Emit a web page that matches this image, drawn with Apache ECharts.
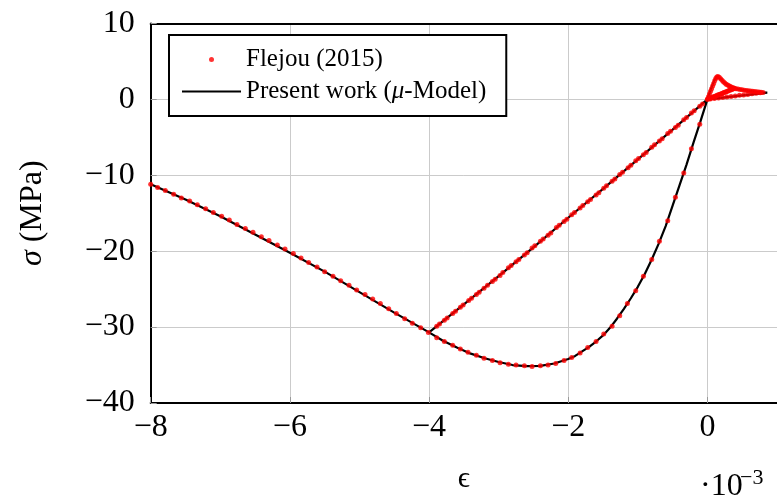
<!DOCTYPE html>
<html><head><meta charset="utf-8">
<script src="https://cdn.jsdelivr.net/npm/echarts@6/dist/echarts.min.js"></script>
<style>html,body{margin:0;padding:0;background:#fff}#c{width:777px;height:499px}</style>
</head><body><div id="c"></div>
<script>
// ---- axis settings / tick labels ----
const xTicks = [-8, -6, -4, -2, 0];
const yTicks = [-40, -30, -20, -10, 0, 10];
const xScaleLabel = '·10';
const xScaleExp = '−3';

// ---- Flejou (2015): compression envelope (strain x1e-3, stress MPa) ----
const flejouEnvX = [0,-0.11,-0.23,-0.34,-0.46,-0.57,-0.69,-0.80,-0.92,-1.03,-1.15,-1.26,-1.37,-1.49,-1.60,-1.72,-1.83,-1.95,-2.06,-2.18,-2.29,-2.40,-2.52,-2.63,-2.75,-2.86,-2.98,-3.09,-3.21,-3.32,-3.44,-3.55,-3.66,-3.78,-3.89,-4.01,-4.12,-4.24,-4.35,-4.47,-4.58,-4.70,-4.81,-4.92,-5.04,-5.15,-5.27,-5.38,-5.50,-5.61,-5.73,-5.84,-5.95,-6.07,-6.18,-6.30,-6.41,-6.53,-6.64,-6.76,-6.87,-6.98,-7.10,-7.21,-7.33,-7.44,-7.56,-7.67,-7.79,-7.90,-8.00];
const flejouEnvY = [0,-3.3,-6.5,-9.7,-12.9,-16.0,-18.7,-21.1,-23.3,-25.2,-26.9,-28.5,-29.9,-30.9,-31.9,-32.7,-33.4,-34.0,-34.4,-34.8,-35.0,-35.1,-35.2,-35.1,-35.0,-34.9,-34.7,-34.4,-34.1,-33.7,-33.3,-32.9,-32.4,-31.9,-31.4,-30.7,-30.1,-29.5,-28.9,-28.2,-27.6,-26.9,-26.3,-25.7,-25.1,-24.5,-23.9,-23.3,-22.7,-22.1,-21.5,-20.9,-20.3,-19.7,-19.2,-18.6,-18.1,-17.5,-17.0,-16.5,-15.9,-15.4,-14.9,-14.4,-13.9,-13.4,-13.0,-12.5,-12.0,-11.6,-11.2];
// unloading from -4e-3 back to origin
const flejouUnloadX = [-3.89,-3.78,-3.66,-3.55,-3.43,-3.32,-3.21,-3.09,-2.98,-2.86,-2.75,-2.63,-2.52,-2.40,-2.29,-2.17,-2.06,-1.95,-1.83,-1.72,-1.60,-1.49,-1.37,-1.26,-1.14,-1.03,-0.92,-0.80,-0.69,-0.57,-0.46,-0.34,-0.23,-0.11];
const flejouUnloadY = [-29.9,-29.1,-28.2,-27.4,-26.5,-25.7,-24.9,-24.0,-23.2,-22.2,-21.4,-20.5,-19.6,-18.7,-17.9,-16.9,-16.1,-15.2,-14.3,-13.5,-12.6,-11.7,-10.8,-9.9,-9.0,-8.1,-7.3,-6.3,-5.5,-4.5,-3.7,-2.7,-1.8,-0.9];
// reloading from origin to -4e-3
const flejouReloadX = [-0.07,-0.19,-0.30,-0.42,-0.53,-0.65,-0.76,-0.88,-0.99,-1.10,-1.22,-1.33,-1.45,-1.56,-1.68,-1.79,-1.91,-2.02,-2.13,-2.25,-2.36,-2.48,-2.59,-2.71,-2.82,-2.94,-3.05,-3.16,-3.28,-3.39,-3.51,-3.62,-3.74,-3.85];
const flejouReloadY = [-0.6,-1.5,-2.4,-3.4,-4.2,-5.2,-6.0,-7.0,-7.8,-8.7,-9.6,-10.5,-11.4,-12.3,-13.2,-14.0,-14.9,-15.8,-16.6,-17.6,-18.4,-19.3,-20.2,-21.1,-21.9,-22.8,-23.7,-24.5,-25.4,-26.2,-27.1,-27.9,-28.8,-29.6];
// tension cycles
const flejouTenX = [0,0.015,0.03,0.045,0.06,0.075,0.09,0.105,0.12,0.135,0.15,0.17,0.19,0.21,0.23,0.25,0.27,0.29,0.31,0.33,0.35,0.37,0.39,0.36,0.33,0.30,0.27,0.24,0.21,0.18,0.15,0.12,0.09,0.06,0.03,0.02,0.05,0.08,0.11,0.14,0.17,0.20,0.23,0.26,0.29,0.32,0.35,0.38,0.41,0.44,0.47,0.50,0.53,0.56,0.59,0.62,0.65,0.68,0.71,0.74,0.77,0.80,0.76,0.70,0.64,0.58,0.52,0.46,0.40,0.34,0.28,0.22,0.16,0.10,0.04];
const flejouTenY = [0,0.35,0.7,1.05,1.4,1.75,2.1,2.45,2.75,2.95,3.0,2.9,2.7,2.5,2.3,2.15,2.0,1.88,1.78,1.68,1.6,1.52,1.45,1.34,1.23,1.12,1.0,0.89,0.78,0.67,0.56,0.45,0.33,0.22,0.11,0.07,0.19,0.3,0.41,0.52,0.63,0.74,0.85,0.96,1.07,1.19,1.3,1.41,1.40,1.35,1.3,1.25,1.2,1.16,1.12,1.08,1.05,1.02,0.99,0.96,0.93,0.9,0.85,0.79,0.72,0.65,0.58,0.52,0.45,0.38,0.31,0.25,0.18,0.11,0.05];

// ---- Present work (mu-Model): loading path ----
const modelX = [0,0.05,0.1,0.135,0.15,0.19,0.23,0.27,0.31,0.35,0.39,0,0.39,0.45,0.5,0.6,0.7,0.8,0.86,0,
  -0.1,-0.2,-0.3,-0.4,-0.5,-0.6,-0.7,-0.8,-0.9,-1.0,-1.1,-1.2,-1.3,-1.4,-1.5,-1.6,-1.7,-1.8,-1.9,-2.0,-2.2,-2.4,-2.6,-2.8,-3.0,-3.2,-3.4,-3.6,-3.8,-4.0,
  -3.5,-3.0,-2.5,-2.0,-1.5,-1.0,-0.5,0,
  -0.5,-1.0,-1.5,-2.0,-2.5,-3.0,-3.5,-4.0,
  -4.5,-5.0,-5.5,-6.0,-6.5,-7.0,-7.5,-8.0];
const modelY = [0,1.3,2.5,2.95,3.0,2.7,2.3,2.0,1.78,1.6,1.45,0,1.45,1.34,1.25,1.12,1.0,0.92,0.88,0,
  -2.9,-5.7,-8.6,-11.3,-14.0,-16.7,-19.0,-21.1,-23.0,-24.7,-26.2,-27.6,-28.9,-30.1,-31.1,-31.9,-32.6,-33.2,-33.8,-34.2,-34.8,-35.1,-35.15,-35.0,-34.6,-34.1,-33.5,-32.7,-31.8,-30.7,
  -27.0,-23.3,-19.5,-15.6,-11.8,-7.9,-4.0,0,
  -4.0,-7.9,-11.8,-15.6,-19.5,-23.3,-27.0,-30.7,
  -28.1,-25.4,-22.7,-20.2,-17.8,-15.4,-13.2,-11.2];

function pairs(xs, ys) { const n = Math.min(xs.length, ys.length); const o = []; for (let i = 0; i < n; i++) o.push([xs[i], ys[i]]); return o; }
const flejouData = [].concat(pairs(flejouEnvX, flejouEnvY), pairs(flejouUnloadX, flejouUnloadY), pairs(flejouReloadX, flejouReloadY), pairs(flejouTenX, flejouTenY));
const modelData = pairs(modelX, modelY);

const FONT = '"Liberation Serif", "DejaVu Serif", serif';
const minus = v => (v < 0 ? '\u2212' + Math.abs(v) : String(v));

const chart = echarts.init(document.getElementById('c'), null, { renderer: 'canvas' });
chart.setOption({
  backgroundColor: '#fff',
  animation: false,
  grid: { left: 150.7, top: 23.4, width: 630, height: 384.5, containLabel: false },
  legend: {
    orient: 'vertical', left: 169, top: 35,
    padding: [12, 20, 12, 13], itemGap: 7, itemWidth: 59, itemHeight: 5,
    backgroundColor: '#fff', borderColor: '#000', borderWidth: 2, borderRadius: 0,
    textStyle: { fontFamily: FONT, fontSize: 25, color: '#000',
      rich: { i: { fontFamily: FONT, fontSize: 25, fontStyle: 'italic', color: '#000' } } },
    formatter: n => n.replace('μ', '{i|μ}'),
    data: [
      { name: 'Flejou (2015)', icon: 'circle' },
      { name: 'Present work (μ-Model)', icon: 'path://M0,0h59v2.2h-59z' }
    ]
  },
  xAxis: [{
    type: 'value', min: xTicks[0], max: 1, interval: 2, position: 'bottom',
    name: 'ϵ', nameLocation: 'middle', nameGap: 61,
    nameTextStyle: { fontFamily: FONT, fontSize: 30, color: '#000' },
    axisLine: { show: true, onZero: false, lineStyle: { color: '#000', width: 2 } },
    axisTick: { show: true, inside: true, length: 6, lineStyle: { color: '#999' } },
    axisLabel: { showMaxLabel: false, margin: 9, fontFamily: FONT, fontSize: 32, color: '#000',
      formatter: v => (xTicks.indexOf(v) >= 0 ? minus(v) : '') },
    splitLine: { show: true, lineStyle: { color: '#cbcbcb', width: 1 } }
  }, {
    type: 'value', min: xTicks[0], max: 1, position: 'top',
    axisLine: { show: true, onZero: false, lineStyle: { color: '#000', width: 2 } },
    axisTick: { show: false }, axisLabel: { show: false }, splitLine: { show: false }
  }],
  yAxis: {
    type: 'value', min: yTicks[0], max: yTicks[yTicks.length - 1], interval: 10,
    name: '{i|σ} (MPa)', nameLocation: 'middle', nameGap: 102, nameRotate: 90,
    nameTextStyle: { fontFamily: FONT, fontSize: 32, color: '#000',
      rich: { i: { fontFamily: FONT, fontSize: 32, fontStyle: 'italic', color: '#000' } } },
    axisLine: { show: true, onZero: false, lineStyle: { color: '#000', width: 2 } },
    axisTick: { show: true, inside: true, length: 6, lineStyle: { color: '#999' } },
    axisLabel: { margin: 16, fontFamily: FONT, fontSize: 32, color: '#000', formatter: v => minus(v) },
    splitLine: { show: true, lineStyle: { color: '#cbcbcb', width: 1 } }
  },
  series: [
    { name: 'Present work (μ-Model)', type: 'line', data: modelData, showSymbol: false, symbol: 'none',
      color: '#000', itemStyle: { color: '#000' }, lineStyle: { color: '#000', width: 2.2 }, z: 2, clip: false },
    { name: 'Flejou (2015)', type: 'scatter', data: flejouData, symbol: 'circle', symbolSize: 5,
      itemStyle: { color: '#ff0000' }, z: 3, clip: false }
  ],
  graphic: [
    { type: 'text', z: 10, style: { x: 700, y: 486.5, text: xScaleLabel, font: '32px ' + FONT, fill: '#000', verticalAlign: 'middle', align: 'left' } },
    { type: 'text', z: 10, style: { x: 740, y: 478, text: xScaleExp, font: '22px ' + FONT, fill: '#000', verticalAlign: 'middle', align: 'left' } }
  ]
});
</script>
</body></html>
